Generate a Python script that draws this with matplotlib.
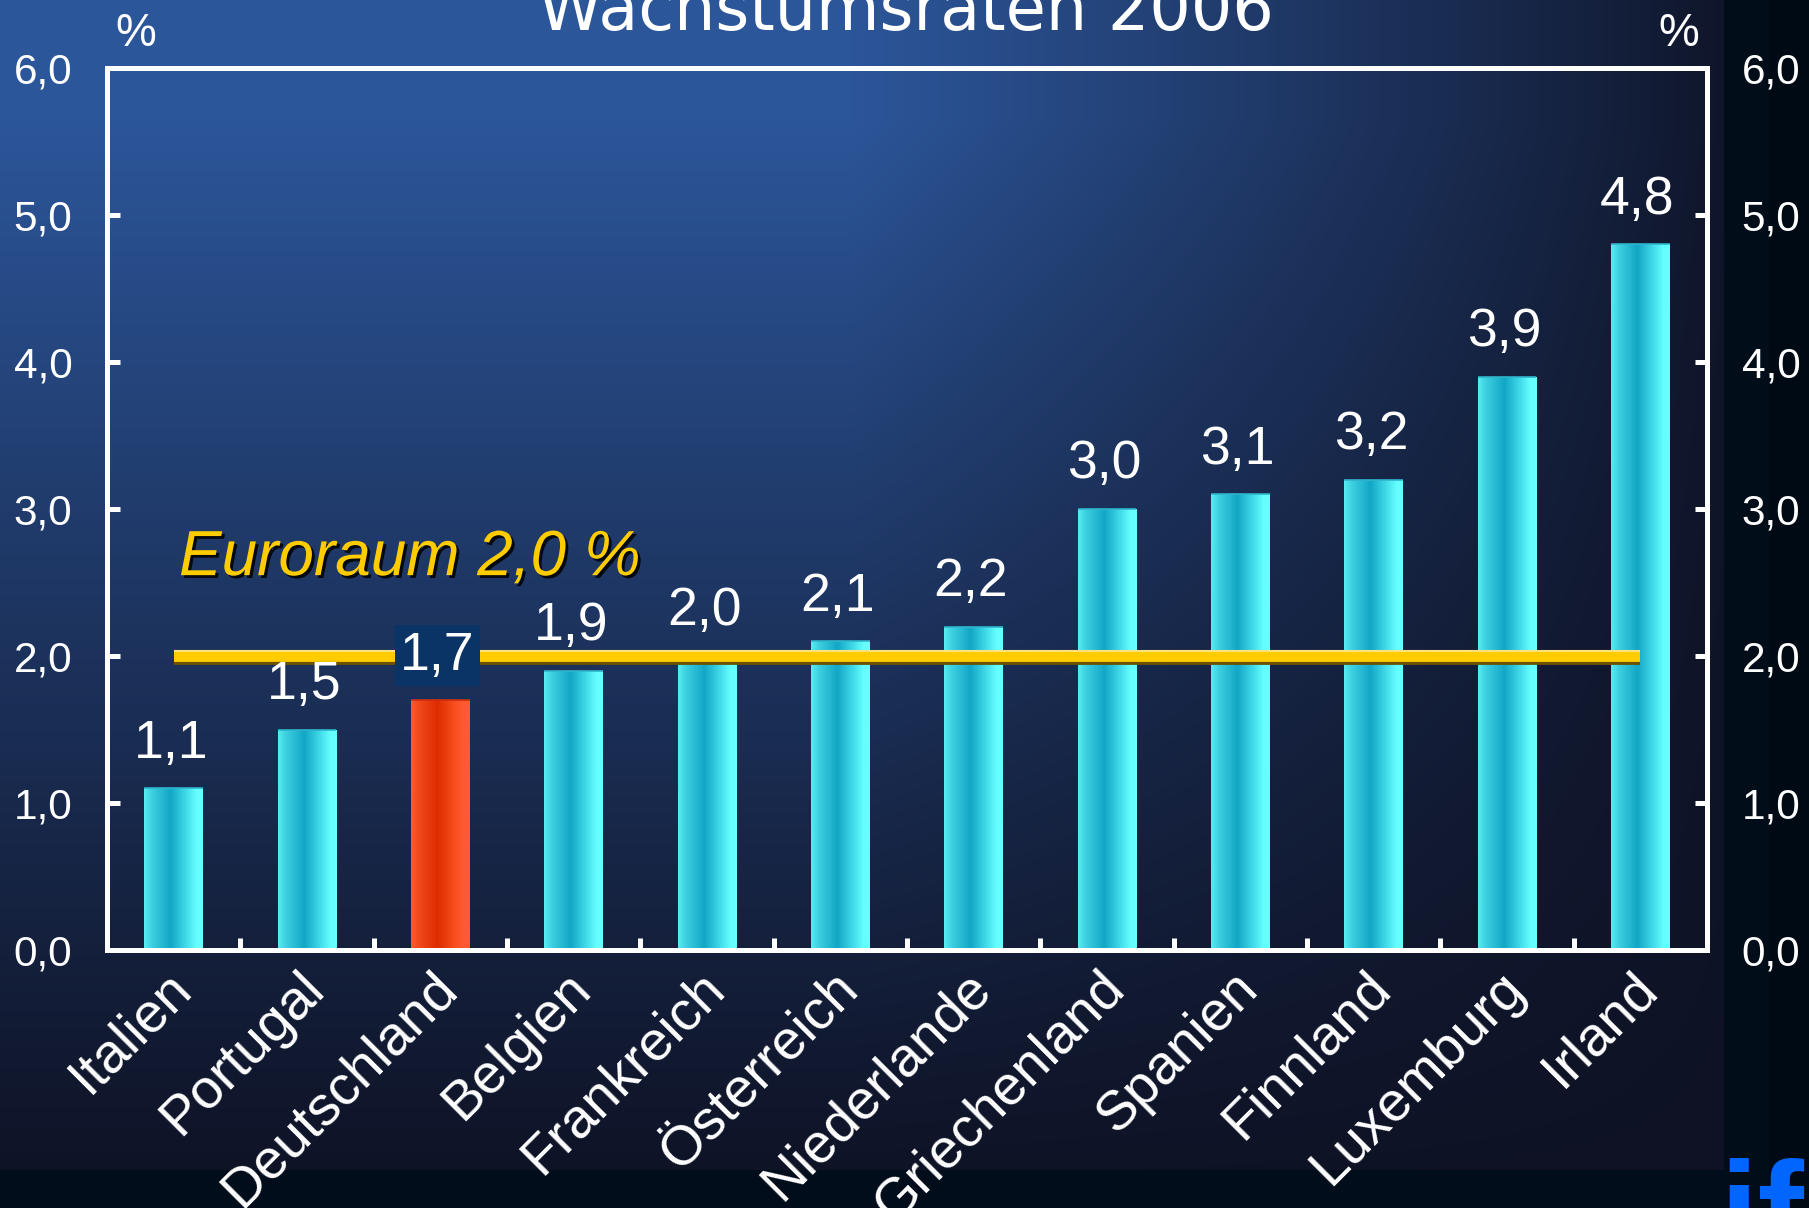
import numpy as np
import matplotlib
matplotlib.use("Agg")
import matplotlib.pyplot as plt
from matplotlib.colors import LinearSegmentedColormap
import matplotlib.patheffects as pe

plt.rcParams['font.family'] = ['Liberation Sans', 'DejaVu Sans']

# ---------------- data ----------------
countries = ['Italien', 'Portugal', 'Deutschland', 'Belgien', 'Frankreich',
             'Österreich', 'Niederlande', 'Griechenland', 'Spanien',
             'Finnland', 'Luxemburg', 'Irland']
growth = [1.1, 1.5, 1.7, 1.9, 2.0, 2.1, 2.2, 3.0, 3.1, 3.2, 3.9, 4.8]
value_labels = ['1,1', '1,5', '1,7', '1,9', '2,0', '2,1', '2,2',
                '3,0', '3,1', '3,2', '3,9', '4,8']
highlight = 'Deutschland'
euro_area = 2.0
euro_label = 'Euroraum 2,0 %'
yticks = [0, 1, 2, 3, 4, 5, 6]
ytick_labels = ['0,0', '1,0', '2,0', '3,0', '4,0', '5,0', '6,0']
title = 'Wachstumsraten 2006'
unit = '%'

# ---------------- figure ----------------
W, H = 1809, 1208
fig = plt.figure(figsize=(W / 100, H / 100), dpi=100)

# background gradient
bg = fig.add_axes([0, 0, 1, 1])
bg.set_axis_off()
yy, xx = np.mgrid[0:H, 0:W].astype(float)
light = np.array([0x2c, 0x56, 0x9a]) / 255
dark = np.array([0x0e, 0x12, 0x24]) / 255
hx = np.clip((1760 - xx) / (1760 - 850), 0, 1) ** 0.9
vy = np.clip((1200 - yy) / (1200 - 120), 0, 1) ** 1.1
t = (hx * vy)[..., None]
img = dark + (light - dark) * t
# right strip and bottom strip
img[:, 1724:1769] = np.array([0x02, 0x0d, 0x1a]) / 255
img[:, 1769:] = np.array([0x00, 0x0a, 0x14]) / 255
img[1170:, :1724] = np.array([0x02, 0x0d, 0x1c]) / 255
bg.imshow(img, extent=[0, W, H, 0], aspect='auto', interpolation='bilinear')
bg.set_xlim(0, W)
bg.set_ylim(H, 0)
bg.text(1719, 1259, 'ifo', color='#0066ff', fontsize=100, fontweight='bold',
        ha='left', va='baseline', clip_on=False)

# title and unit labels
fig.text(906 / W, 1 - 30 / H, title, family='DejaVu Sans', fontsize=47,
         color='white', ha='center', va='baseline')
fig.text(136 / W, 1 - 46 / H, unit, fontsize=33, color='white',
         ha='center', va='baseline')
fig.text(1679 / W, 1 - 46 / H, unit, fontsize=33, color='white',
         ha='center', va='baseline')

# main axes
ax = fig.add_axes([107 / W, 1 - 950 / H, (1707 - 107) / W, (950 - 68) / H])
ax.set_facecolor('none')

n = len(countries)
x = np.arange(n)

cyan = LinearSegmentedColormap.from_list('cyan', [
    (0.0, '#55eef2'), (0.12, '#3fd2e2'), (0.45, '#12a6c6'),
    (0.75, '#48e2ee'), (0.9, '#66ffff'), (1.0, '#66ffff')])
red = LinearSegmentedColormap.from_list('red', [
    (0.0, '#ff5a30'), (0.12, '#f24a1e'), (0.45, '#dd2c00'),
    (0.75, '#f8501f'), (0.9, '#ff5a33'), (1.0, '#ff5a33')])

bars = ax.bar(x, growth, width=0.44, color='none', edgecolor='none', zorder=2)
grad = np.linspace(0, 1, 256).reshape(1, -1)
for name, b in zip(countries, bars):
    cm = red if name == highlight else cyan
    im = ax.imshow(grad, extent=[b.get_x(), b.get_x() + b.get_width(), 0,
                                 b.get_height()],
                   aspect='auto', cmap=cm, zorder=2, interpolation='bicubic')
    im.set_clip_path(b)
    ax.plot([b.get_x(), b.get_x() + b.get_width()], [b.get_height()] * 2,
            color='#d03010' if name == highlight else '#30b4cc', lw=1.2,
            zorder=3, solid_capstyle='butt')

# euro area line
ax.plot([x[0], x[-1]], [euro_area, euro_area], color='#ffcc00', lw=8.5,
        solid_capstyle='butt', zorder=4,
        path_effects=[pe.SimpleLineShadow(offset=(0, -2.5),
                                          shadow_color='#6b5200', alpha=1),
                      pe.Normal()])
ax.plot([x[0], x[-1]], [euro_area, euro_area], color='#ffe27a', lw=1.5,
        solid_capstyle='butt', zorder=4,
        path_effects=[pe.Stroke(offset=(0, 3.5), linewidth=1.5,
                                foreground='#ffe27a')])

ax.text(0.04, 2.55, euro_label, fontsize=46, style='italic', color='#ffcc00',
        ha='left', va='baseline', zorder=6,
        path_effects=[pe.withSimplePatchShadow(offset=(2, -2),
                                               shadow_rgbFace='black',
                                               alpha=0.85)])

# value labels
for name, xi, v, lbl in zip(countries, x, growth, value_labels):
    kw = {}
    if name == highlight:
        kw['bbox'] = dict(boxstyle='square,pad=0.1', fc='#0b3466', ec='none')
    ax.annotate(lbl, (xi, v), xytext=(-2, 22), textcoords='offset points',
                ha='center', va='baseline', fontsize=38.5, color='white',
                zorder=7, **kw)

# category labels
for xi, name in zip(x, countries):
    ax.annotate(name, (xi, 0), xycoords=('data', 'axes fraction'),
                xytext=(14, -29), textcoords='offset points', rotation=45,
                rotation_mode='anchor', ha='right', va='baseline',
                fontsize=40, color='white', annotation_clip=False)

ax.set_xlim(-0.5, n - 0.5)
ax.set_ylim(0, 6)
ax.set_xticks([])
ax.set_xticks(np.arange(0.5, n - 1, 1), minor=True)
ax.tick_params(axis='x', which='minor', direction='in', length=9, width=3.6,
               color='white', bottom=True, top=False)
ax.set_yticks(yticks, ytick_labels)
ax.tick_params(axis='y', which='major', left=True, right=True,
               labelleft=True, labelright=True, direction='in', length=9,
               width=3.6, pad=25, labelsize=30.5, colors='white')
for s in ax.spines.values():
    s.set_color('white')
    s.set_linewidth(3.6)

fig.savefig('out.png', dpi=100)
